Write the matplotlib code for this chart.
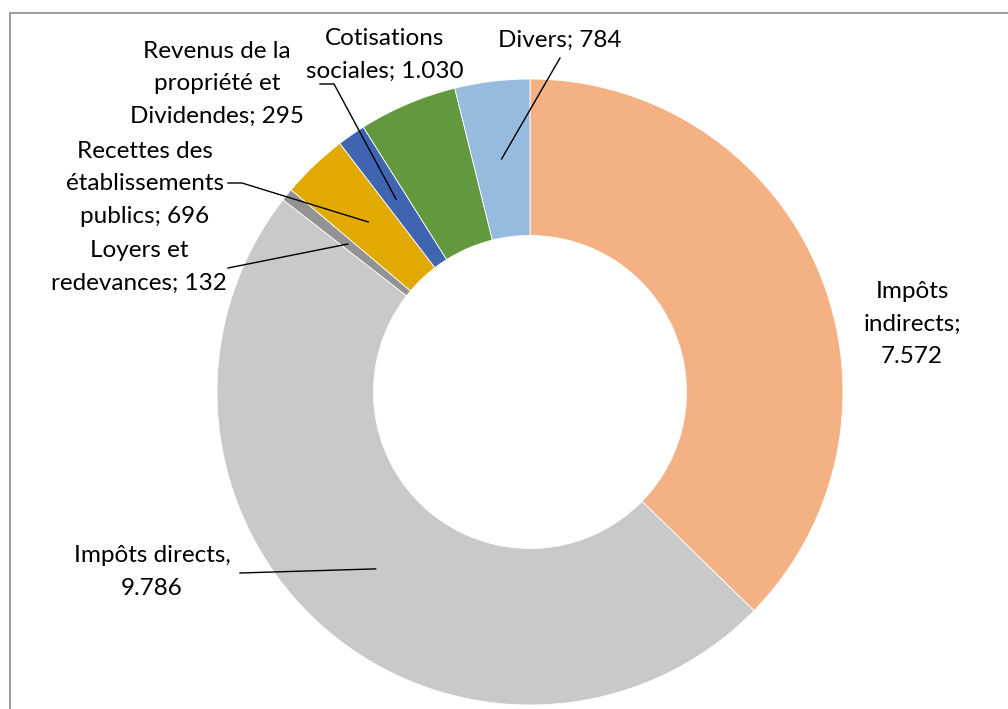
import matplotlib.pyplot as plt
from matplotlib.patches import Rectangle
import numpy as np

plt.rcParams['font.family'] = ['Lato', 'DejaVu Sans']

# Data (values in order, clockwise from the top)
categories = ["Impôts indirects", "Impôts directs", "Loyers et redevances",
              "Recettes des établissements publics",
              "Revenus de la propriété et Dividendes",
              "Cotisations sociales", "Divers"]
values = [7572, 9786, 132, 696, 295, 1030, 784]
labels = ["Impôts\nindirects;\n7.572", "Impôts directs,\n9.786",
          "Loyers et\nredevances; 132", "Recettes des\nétablissements\npublics; 696",
          "Revenus de la\npropriété et\nDividendes; 295", "Cotisations\nsociales; 1.030",
          "Divers; 784"]
colors = ["#F4B183", "#C9C9C9", "#939393", "#E2AA00", "#3F65B0", "#62993E", "#97BADF"]

# layout in pixel units (y up)
W, H = 1008, 709
cx, cy = 530, H - 392
R = 313
width = 0.5

# label positions and where the leader line starts
label_pos = [(912, H - 324), (152, H - 572), (139, H - 267), (145, H - 184),
             (217, H - 84), (385, H - 55), (560, H - 40)]
leader_start = [None, (240, H - 573), (228, H - 268), (228, H - 183),
                (320, H - 84), None, (560, H - 58)]

fig = plt.figure(figsize=(W / 100, H / 100), dpi=100)
ax = fig.add_axes([0, 0, 1, 1])

wedges, _ = ax.pie(values, colors=colors, startangle=90, counterclock=False,
                   center=(cx, cy), radius=R,
                   wedgeprops=dict(width=R * width, edgecolor='white', linewidth=0.6))
ax.set_xlim(0, W)
ax.set_ylim(0, H)
ax.set_aspect('equal')
ax.axis('off')

# frame
ax.add_patch(Rectangle((10, -20), W + 20, H - 13 + 20, fill=False,
                       edgecolor='#8c8c8c', linewidth=1.2, clip_on=False))

r_mid = R * (1 - width / 2)
for w, lab, pos, start in zip(wedges, labels, label_pos, leader_start):
    ang = np.deg2rad((w.theta1 + w.theta2) / 2)
    ax.text(pos[0], pos[1], lab, ha='center', va='center', fontsize=17.5,
            linespacing=1.65, color='black')
    if start is not None:
        ex = cx + r_mid * np.cos(ang)
        ey = cy + r_mid * np.sin(ang)
        if start[1] == H - 183 or start[1] == H - 84:
            bend = (start[0] + 14, start[1])
            ax.plot([start[0], bend[0], ex], [start[1], bend[1], ey], color='black', lw=1)
        else:
            ax.plot([start[0], ex], [start[1], ey], color='black', lw=1)

fig.savefig("out.png", dpi=100)
